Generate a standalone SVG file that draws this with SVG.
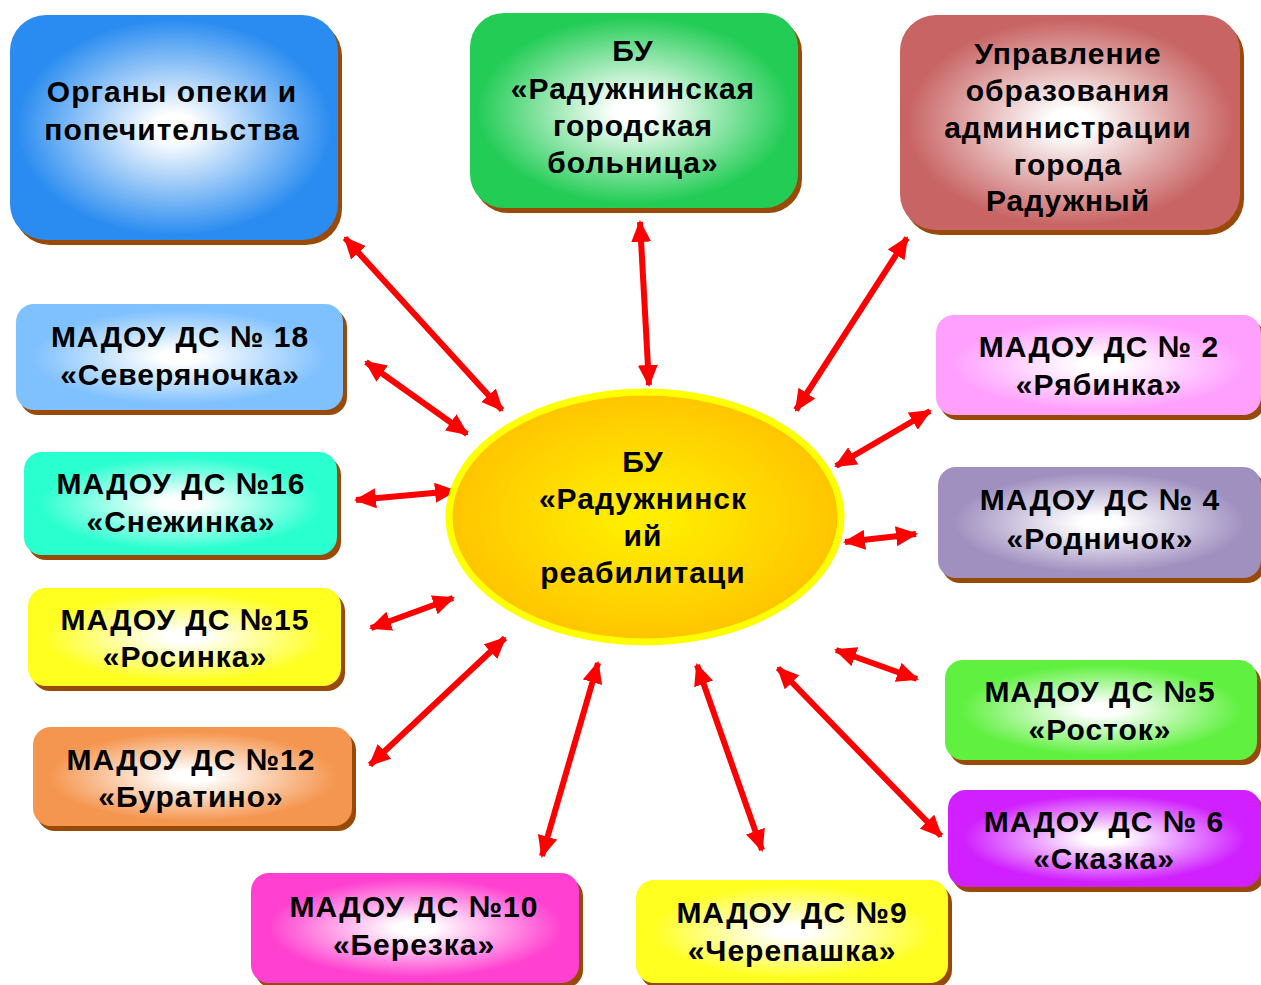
<svg xmlns="http://www.w3.org/2000/svg" width="1261" height="985" viewBox="0 0 1261 985">
<style>
.sh{fill:#9a4a08}
.t{font-family:"Liberation Sans",Arial,sans-serif;font-weight:bold;font-size:30px;letter-spacing:1px;fill:#000;text-anchor:middle}
.c{stroke:#ff0000;stroke-width:6;fill:none;marker-start:url(#ah);marker-end:url(#ah)}
</style>
<defs>
<marker id="ah" viewBox="0 0 22 20" refX="20" refY="10" markerWidth="22" markerHeight="20" markerUnits="userSpaceOnUse" orient="auto-start-reverse">
<path d="M0,0 L22,10 L0,20 Z" fill="#ff0000"/>
</marker>
<radialGradient id="gBlue" cx="0.5" cy="0.5" r="0.6"><stop offset="0.1" stop-color="#ffffff"/><stop offset="0.8" stop-color="#2a8cf0"/></radialGradient>
<radialGradient id="gGreen" cx="0.5" cy="0.5" r="0.6"><stop offset="0.1" stop-color="#ffffff"/><stop offset="0.8" stop-color="#22cc55"/></radialGradient>
<radialGradient id="gRed" cx="0.5" cy="0.5" r="0.6"><stop offset="0.1" stop-color="#ffffff"/><stop offset="0.8" stop-color="#c86464"/></radialGradient>
<radialGradient id="gLBlue" cx="0.5" cy="0.5" r="0.6"><stop offset="0.1" stop-color="#ffffff"/><stop offset="0.75" stop-color="#7fc0ff"/></radialGradient>
<radialGradient id="gAqua" cx="0.5" cy="0.5" r="0.6"><stop offset="0.1" stop-color="#ffffff"/><stop offset="0.75" stop-color="#2affd0"/></radialGradient>
<radialGradient id="gYellow" cx="0.5" cy="0.5" r="0.6"><stop offset="0.1" stop-color="#ffffff"/><stop offset="0.75" stop-color="#ffff20"/></radialGradient>
<radialGradient id="gOrange" cx="0.5" cy="0.5" r="0.6"><stop offset="0.1" stop-color="#ffffff"/><stop offset="0.75" stop-color="#f59650"/></radialGradient>
<radialGradient id="gMagenta" cx="0.5" cy="0.5" r="0.6"><stop offset="0.1" stop-color="#ffffff"/><stop offset="0.75" stop-color="#ff40d0"/></radialGradient>
<radialGradient id="gPurple" cx="0.5" cy="0.5" r="0.6"><stop offset="0.1" stop-color="#ffffff"/><stop offset="0.75" stop-color="#d020ff"/></radialGradient>
<radialGradient id="gLime" cx="0.5" cy="0.5" r="0.6"><stop offset="0.1" stop-color="#ffffff"/><stop offset="0.75" stop-color="#60f040"/></radialGradient>
<radialGradient id="gLav" cx="0.5" cy="0.5" r="0.6"><stop offset="0.1" stop-color="#ffffff"/><stop offset="0.75" stop-color="#a090c0"/></radialGradient>
<radialGradient id="gPink" cx="0.5" cy="0.5" r="0.6"><stop offset="0.1" stop-color="#ffffff"/><stop offset="0.75" stop-color="#ffa0ff"/></radialGradient>
<radialGradient id="gSun" cx="0.5" cy="0.5" r="0.55"><stop offset="0.1" stop-color="#ffee00"/><stop offset="1" stop-color="#ffc000"/></radialGradient>
</defs>

<g id="connectors">
<line class="c" x1="345" y1="238" x2="502" y2="410"/>
<line class="c" x1="640" y1="222" x2="649" y2="385"/>
<line class="c" x1="907" y1="238" x2="796" y2="410"/>
<line class="c" x1="366" y1="362" x2="467" y2="434"/>
<line class="c" x1="356" y1="500" x2="455" y2="491"/>
<line class="c" x1="371" y1="628" x2="453" y2="598"/>
<line class="c" x1="370" y1="765" x2="505" y2="638"/>
<line class="c" x1="542" y1="856" x2="598" y2="663"/>
<line class="c" x1="697" y1="665" x2="762" y2="850"/>
<line class="c" x1="778" y1="668" x2="941" y2="836"/>
<line class="c" x1="836" y1="650" x2="917" y2="679"/>
<line class="c" x1="845" y1="542" x2="916" y2="534"/>
<line class="c" x1="836" y1="466" x2="930" y2="411"/>
</g>

<g id="center">
<ellipse cx="645" cy="517" rx="196" ry="125" fill="url(#gSun)" stroke="#ffff00" stroke-width="7"/>
<text class="t" x="643" y="472">БУ</text>
<text class="t" x="643" y="509">«Радужнинск</text>
<text class="t" x="643" y="546">ий</text>
<text class="t" x="643" y="583">реабилитаци</text>
</g>

<g id="opeka">
<rect class="sh" x="14" y="20" width="328" height="225" rx="36"/>
<rect x="10" y="15" width="328" height="225" rx="36" fill="url(#gBlue)"/>
<text class="t" x="172" y="102">Органы опеки и</text>
<text class="t" x="172" y="140">попечительства</text>
</g>

<g id="bolnica">
<rect class="sh" x="474" y="18" width="328" height="195" rx="34"/>
<rect x="470" y="13" width="328" height="195" rx="34" fill="url(#gGreen)"/>
<text class="t" x="633" y="61">БУ</text>
<text class="t" x="633" y="99">«Радужнинская</text>
<text class="t" x="633" y="136">городская</text>
<text class="t" x="633" y="173">больница»</text>
</g>

<g id="upravlenie">
<rect class="sh" x="904" y="20" width="340" height="215" rx="36"/>
<rect x="900" y="15" width="340" height="215" rx="36" fill="url(#gRed)"/>
<text class="t" x="1068" y="64">Управление</text>
<text class="t" x="1068" y="101">образования</text>
<text class="t" x="1068" y="138">администрации</text>
<text class="t" x="1068" y="175">города</text>
<text class="t" x="1068" y="211">Радужный</text>
</g>

<g id="ds18">
<rect class="sh" x="20" y="309" width="327" height="106" rx="18"/>
<rect x="16" y="304" width="327" height="106" rx="18" fill="url(#gLBlue)"/>
<text class="t" x="180" y="347">МАДОУ ДС № 18</text>
<text class="t" x="180" y="385">«Северяночка»</text>
</g>

<g id="ds16">
<rect class="sh" x="28" y="457" width="313" height="103" rx="18"/>
<rect x="24" y="452" width="313" height="103" rx="18" fill="url(#gAqua)"/>
<text class="t" x="181" y="494">МАДОУ ДС №16</text>
<text class="t" x="181" y="532">«Снежинка»</text>
</g>

<g id="ds15">
<rect class="sh" x="32" y="593" width="313" height="98" rx="18"/>
<rect x="28" y="588" width="313" height="98" rx="18" fill="url(#gYellow)"/>
<text class="t" x="185" y="630">МАДОУ ДС №15</text>
<text class="t" x="185" y="667">«Росинка»</text>
</g>

<g id="ds12">
<rect class="sh" x="37" y="732" width="319" height="99" rx="18"/>
<rect x="33" y="727" width="319" height="99" rx="18" fill="url(#gOrange)"/>
<text class="t" x="191" y="770">МАДОУ ДС №12</text>
<text class="t" x="191" y="807">«Буратино»</text>
</g>

<g id="ds10">
<rect class="sh" x="255" y="878" width="328" height="110" rx="18"/>
<rect x="251" y="873" width="328" height="110" rx="18" fill="url(#gMagenta)"/>
<text class="t" x="414" y="917">МАДОУ ДС №10</text>
<text class="t" x="414" y="955">«Березка»</text>
</g>

<g id="ds9">
<rect class="sh" x="640" y="885" width="312" height="103" rx="18"/>
<rect x="636" y="880" width="312" height="103" rx="18" fill="url(#gYellow)"/>
<text class="t" x="792" y="923">МАДОУ ДС №9</text>
<text class="t" x="792" y="961">«Черепашка»</text>
</g>

<g id="ds6">
<rect class="sh" x="952" y="795" width="313" height="97" rx="18"/>
<rect x="948" y="790" width="313" height="97" rx="18" fill="url(#gPurple)"/>
<text class="t" x="1104" y="832">МАДОУ ДС № 6</text>
<text class="t" x="1104" y="869">«Сказка»</text>
</g>

<g id="ds5">
<rect class="sh" x="949" y="665" width="312" height="100" rx="18"/>
<rect x="945" y="660" width="312" height="100" rx="18" fill="url(#gLime)"/>
<text class="t" x="1100" y="702">МАДОУ ДС №5</text>
<text class="t" x="1100" y="740">«Росток»</text>
</g>

<g id="ds4">
<rect class="sh" x="942" y="472" width="323" height="111" rx="18"/>
<rect x="938" y="467" width="323" height="111" rx="18" fill="url(#gLav)"/>
<text class="t" x="1100" y="510">МАДОУ ДС № 4</text>
<text class="t" x="1100" y="549">«Родничок»</text>
</g>

<g id="ds2">
<rect class="sh" x="940" y="320" width="325" height="100" rx="18"/>
<rect x="936" y="315" width="325" height="100" rx="18" fill="url(#gPink)"/>
<text class="t" x="1099" y="357">МАДОУ ДС № 2</text>
<text class="t" x="1099" y="395">«Рябинка»</text>
</g>
</svg>
